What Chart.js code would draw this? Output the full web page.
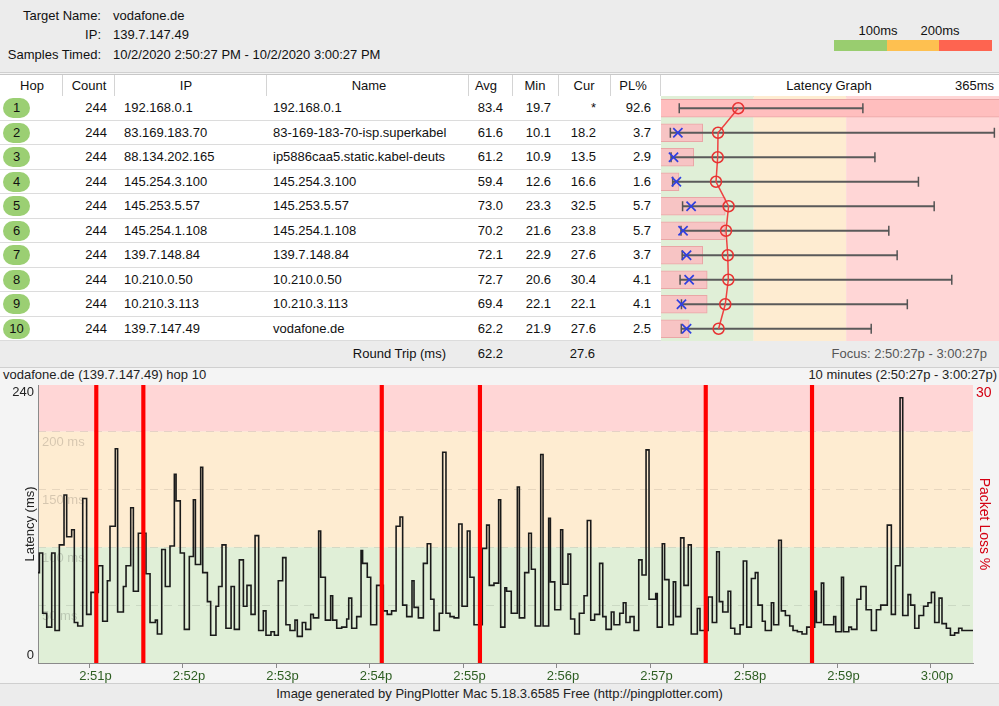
<!DOCTYPE html>
<html lang="en">
<head>
<meta charset="UTF-8">
<meta name="viewport" content="width=device-width, initial-scale=1.0">
<title>PingPlotter - vodafone.de</title>
<script src="https://cdn.jsdelivr.net/npm/chart.js"></script>
<style>
  body { margin:0; width:999px; height:706px; overflow:hidden; position:relative; background:#f4f4f4;
         font-family:"Liberation Sans", Arial, Helvetica, sans-serif; font-size:13px; color:#111; }
  .a { position:absolute; white-space:nowrap; line-height:16px; }
  .r { text-align:right; }
  .c { text-align:center; }
  #top { position:absolute; left:0; top:0; width:999px; height:72px; background:#ececec; border-bottom:1px solid #d0d0d0; }
  #thead { position:absolute; left:0; top:74px; width:999px; height:21px; background:#fff; border-top:1px solid #c8c8c8; border-bottom:1px solid #c8c8c8; }
  .sep { position:absolute; top:75px; width:1px; height:21px; background:#d4d4d4; }
  .row { position:absolute; left:0; width:661px; background:#fff; border-bottom:1px solid #dcdcdc; box-sizing:border-box; }
  .badge { position:absolute; left:3px; width:27px; height:20px; border-radius:10px; background:#9bcf73; text-align:center; line-height:20px; }
  #rt { position:absolute; left:0; top:341px; width:999px; height:26px; background:#ececec; border-bottom:1px solid #d0d0d0; }
  #foot { position:absolute; left:0; top:683px; width:999px; height:23px; background:#ececec; border-top:1px solid #cfcfcf; }
  canvas { position:absolute; }
</style>
</head>
<body>
<div id="top"></div>
<div class="a r" style="left:0;width:101px;top:8px">Target Name:</div>
<div class="a" style="left:113px;top:8px">vodafone.de</div>
<div class="a r" style="left:0;width:101px;top:27px">IP:</div>
<div class="a" style="left:113px;top:27px">139.7.147.49</div>
<div class="a r" style="left:0;width:101px;top:47px">Samples Timed:</div>
<div class="a" style="left:113px;top:47px">10/2/2020 2:50:27 PM - 10/2/2020 3:00:27 PM</div>
<div id="legend"></div>

<div id="thead"></div>
<div id="heads"></div>
<div id="rows"></div>
<canvas id="graph" width="338" height="245" style="left:661px;top:96px"></canvas>

<div id="rt"></div>
<div class="a r" style="left:246px;width:200px;top:346px">Round Trip (ms)</div>
<div class="a r" style="left:403px;width:100px;top:346px" id="rtAvg"></div>
<div class="a r" style="left:495px;width:100px;top:346px" id="rtCur"></div>
<div class="a r" style="left:687px;width:300px;top:346px;color:#555">Focus: 2:50:27p - 3:00:27p</div>

<div class="a" style="left:3px;top:367px;color:#222">vodafone.de (139.7.147.49) hop 10</div>
<div class="a r" style="left:597px;width:400px;top:367px;color:#222">10 minutes (2:50:27p - 3:00:27p)</div>

<canvas id="timeline" width="999" height="300" style="left:0;top:383px"></canvas>

<div id="foot"></div>
<div class="a c" style="left:0;width:999px;top:686px;color:#222">Image generated by PingPlotter Mac 5.18.3.6585 Free (http://pingplotter.com)</div>

<script>
    // hop table
    const hopNums  = [1, 2, 3, 4, 5, 6, 7, 8, 9, 10];
    const hopCount = [244, 244, 244, 244, 244, 244, 244, 244, 244, 244];
    const hopIp    = ['192.168.0.1', '83.169.183.70', '88.134.202.165', '145.254.3.100', '145.253.5.57',
                      '145.254.1.108', '139.7.148.84', '10.210.0.50', '10.210.3.113', '139.7.147.49'];
    const hopName  = ['192.168.0.1', '83-169-183-70-isp.superkabel', 'ip5886caa5.static.kabel-deuts', '145.254.3.100', '145.253.5.57',
                      '145.254.1.108', '139.7.148.84', '10.210.0.50', '10.210.3.113', 'vodafone.de'];
    const hopAvg   = [83.4, 61.6, 61.2, 59.4, 73.0, 70.2, 72.1, 72.7, 69.4, 62.2];
    const hopMin   = [19.7, 10.1, 10.9, 12.6, 23.3, 21.6, 22.9, 20.6, 22.1, 21.9];
    const hopCur   = [null, 18.2, 13.5, 16.6, 32.5, 23.8, 27.6, 30.4, 22.1, 27.6];
    const hopPL    = [92.6, 3.7, 2.9, 1.6, 5.7, 5.7, 3.7, 4.1, 4.1, 2.5];
    const hopMax   = [218, 360, 231, 278, 295, 246, 255, 314, 266, 227];
    const graphMaxMs = 365;
    const bandLimits = [100, 200];

    // hop 10 timeline (seconds after 2:50:27p, latency ms)
    const sampleSec = [0, 0.9, 3.0, 5.6, 8.8, 10.9, 13.7, 16.7, 18.4, 21.6, 23.3, 25.5, 28.7, 31.2, 34.0, 38.7, 41.5, 44.5, 46.2, 49.6,
        51.1, 54.8, 56.5, 59.5, 61.2, 64.4, 69.3, 71.9, 75.3, 76.6, 79.4, 81.7, 84.7, 87.5, 88.6, 91.3, 93.9, 97.1, 99.7, 101.0,
        104.4, 105.7, 108.7, 110.8, 114.2, 115.9, 118.1, 120.6, 123.9, 126.0, 129.2, 131.8, 134.1, 136.7, 139.3, 141.6, 144.6, 146.3, 149.5, 151.7,
        154.2, 157.0, 159.1, 161.7, 164.9, 166.4, 169.6, 171.8, 175.0, 176.7, 180.1, 181.4, 184.4, 187.8, 189.1, 191.7, 194.9, 198.1, 199.4, 201.3,
        204.5, 207.3, 208.3, 211.3, 213.5, 217.3, 221.6, 224.1, 226.9, 229.8, 232.3, 234.0, 236.6, 240.0, 241.3, 244.1, 247.3, 249.8, 252.0, 254.1,
        257.5, 259.7, 261.8, 264.4, 267.0, 270.0, 272.1, 275.5, 277.2, 279.8, 285.1, 287.9, 289.6, 292.6, 295.6, 296.9, 299.6, 300.7, 303.7, 307.6,
        308.9, 312.3, 314.9, 316.6, 319.1, 322.6, 324.1, 327.7, 328.8, 331.6, 335.4, 336.7, 340.1, 341.8, 344.4, 347.4, 350.4, 352.5, 354.7, 357.2,
        360.4, 362.4, 364.5, 367.9, 369.6, 373.3, 375.6, 377.3, 379.9, 382.5, 385.5, 387.6, 390.2, 392.1, 396.4, 397.4, 400.6, 402.1, 404.9, 407.7,
        409.2, 412.4, 414.5, 417.3, 419.2, 423.1, 424.8, 430.0, 432.7, 435.5, 437.2, 439.4, 442.8, 444.5, 447.1, 450.5, 452.6, 454.8, 457.8, 460.3,
        462.0, 464.8, 466.7, 470.6, 472.1, 475.3, 477.0, 479.6, 482.4, 484.5, 487.3, 490.3, 493.3, 498.4, 499.5, 502.7, 504.2, 510.6, 511.9, 515.6,
        516.9, 520.3, 522.0, 525.5, 528.0, 531.4, 534.8, 538.0, 540.8, 545.0, 547.6, 550.2, 553.2, 554.9, 558.3, 560.0, 562.6, 565.3, 568.3, 571.1,
        573.3, 575.4, 578.2, 580.1, 582.9, 585.5, 588.2, 590.8, 592.9, 600];
    const latencyMs = [78, 95, 43, 31, 95, 28, 102, 145, 109, 115, 35, 32, 142, 42, 61, 84, 36, 71, 118, 185,
        44, 66, 84, 134, 62, 112, 77, 35, 37, 25, 98, 66, 101, 163, 140, 95, 29, 92, 141, 85,
        169, 78, 53, 24, 49, 66, 102, 30, 66, 29, 89, 49, 67, 42, 110, 28, 45, 24, 27, 24,
        71, 91, 33, 28, 37, 23, 35, 29, 42, 39, 114, 74, 37, 58, 37, 30, 31, 38, 56, 30,
        40, 97, 86, 74, 33, 67, 45, 42, 45, 118, 126, 50, 40, 71, 48, 39, 86, 103, 55, 28,
        43, 182, 43, 40, 39, 120, 49, 114, 74, 33, 99, 119, 67, 69, 141, 31, 65, 62, 43, 152,
        39, 78, 112, 81, 32, 180, 32, 125, 70, 46, 115, 68, 94, 38, 25, 43, 58, 123, 37, 42,
        86, 40, 29, 44, 33, 43, 52, 35, 40, 28, 89, 76, 184, 55, 60, 31, 103, 72, 33, 70,
        40, 108, 67, 102, 25, 47, 28, 57, 35, 96, 53, 44, 62, 30, 25, 33, 88, 31, 73, 78,
        50, 36, 28, 52, 33, 106, 45, 41, 32, 28, 27, 25, 31, 62, 35, 69, 33, 40, 27, 74,
        27, 31, 29, 55, 66, 46, 28, 46, 50, 119, 42, 84, 229, 41, 59, 50, 30, 41, 49, 52,
        61, 35, 56, 34, 30, 24, 26, 30, 28, 28];
    const lossSec = [37.4, 67.6, 220.6, 283.6, 428.5, 496.7];
    const lossPct = [100, 100, 100, 100, 100, 100];
    const tickSec = [33, 93, 153, 213, 273, 333, 393, 453, 513, 573];
    const tickLabels = ['2:51p', '2:52p', '2:53p', '2:54p', '2:55p', '2:56p', '2:57p', '2:58p', '2:59p', '3:00p'];

    const GREEN = '#e0efd7', ORANGE = '#feecd1', RED = '#ffd6d6';
    const ROW_H = 24.5;

    function put(parent, text, css) {
        const d = document.createElement('div');
        d.className = 'a';
        d.textContent = text;
        Object.assign(d.style, css);
        parent.appendChild(d);
        return d;
    }

    // threshold legend
    const legend = document.getElementById('legend');
    put(legend, bandLimits[0] + 'ms', {left: '848px', width: '60px', top: '23px', textAlign: 'center'});
    put(legend, bandLimits[1] + 'ms', {left: '910px', width: '60px', top: '23px', textAlign: 'center'});
    [['834px', '#99cd6f'], ['887px', '#fec050'], ['939px', '#fe6450']].forEach(([l, c]) => {
        put(legend, '', {left: l, width: '53px', height: '11px', top: '40px', background: c});
    });

    // header row
    const heads = document.getElementById('heads');
    [['Hop', 32], ['Count', 89], ['IP', 186], ['Name', 369], ['Avg', 486], ['Min', 535], ['Cur', 584], ['PL%', 633], ['Latency Graph', 829]]
        .forEach(([t, cx]) => put(heads, t, {left: (cx - 60) + 'px', width: '120px', top: '78px', textAlign: 'center'}));
    put(heads, graphMaxMs + 'ms', {left: '894px', width: '100px', top: '78px', textAlign: 'right'});
    [62, 114, 266, 468, 512, 558, 610, 660].forEach(x => {
        const s = document.createElement('div');
        s.className = 'sep';
        s.style.left = x + 'px';
        heads.appendChild(s);
    });

    // body rows
    const rows = document.getElementById('rows');
    const right = (r) => ({left: (r - 100) + 'px', width: '100px', textAlign: 'right'});
    hopNums.forEach((h, i) => {
        const top = 96 + i * ROW_H;
        const row = document.createElement('div');
        row.className = 'row';
        row.style.top = top + 'px';
        row.style.height = ROW_H + 'px';
        rows.appendChild(row);
        const ty = (top + ROW_H / 2 - 8) + 'px';
        const b = document.createElement('div');
        b.className = 'badge';
        b.textContent = h;
        b.style.top = (top + ROW_H / 2 - 10) + 'px';
        rows.appendChild(b);
        put(rows, hopCount[i], {...right(107), top: ty});
        put(rows, hopIp[i], {left: '124px', top: ty});
        put(rows, hopName[i], {left: '273px', top: ty});
        put(rows, hopAvg[i].toFixed(1), {...right(503), top: ty});
        put(rows, hopMin[i].toFixed(1), {...right(551), top: ty});
        put(rows, hopCur[i] === null ? '*' : hopCur[i].toFixed(1), {...right(596), top: ty});
        put(rows, hopPL[i].toFixed(1), {...right(651), top: ty});
    });
    document.getElementById('rtAvg').textContent = hopAvg[hopAvg.length - 1].toFixed(1);
    document.getElementById('rtCur').textContent = hopCur[hopCur.length - 1].toFixed(1);

    Chart.defaults.font.family = '"Liberation Sans", Arial, Helvetica, sans-serif';
    Chart.defaults.font.size = 13;

    // latency graph column
    const graphBands = {
        id: 'graphBands',
        beforeDraw(chart) {
            const {ctx, chartArea: a, scales: {x}} = chart;
            const edges = [0, bandLimits[0], bandLimits[1], graphMaxMs];
            [GREEN, ORANGE, RED].forEach((c, k) => {
                const x0 = x.getPixelForValue(edges[k]), x1 = x.getPixelForValue(edges[k + 1]);
                ctx.fillStyle = c;
                ctx.fillRect(x0, a.top, x1 - x0, a.bottom - a.top);
            });
        }
    };

    new Chart(document.getElementById('graph'), {
        data: {
            labels: hopNums.map(String),
            datasets: [
                {
                    type: 'line', data: hopAvg, borderColor: '#ee4242', borderWidth: 1.5,
                    pointRadius: 5.5, pointBorderColor: '#e83232', pointBorderWidth: 1.5,
                    pointBackgroundColor: 'rgba(0,0,0,0)', order: 0
                },
                {
                    type: 'line', data: hopCur, showLine: false, pointStyle: 'crossRot',
                    pointRadius: 6.5, pointBorderColor: '#2f3fe0', pointBorderWidth: 1.7, order: 1
                },
                {
                    type: 'line', data: hopMin, showLine: false, pointStyle: 'line', pointRotation: 90,
                    pointRadius: 5, pointBorderColor: '#555', pointBorderWidth: 1.5, order: 2
                },
                {
                    type: 'line', data: hopMax, showLine: false, pointStyle: 'line', pointRotation: 90,
                    pointRadius: 5, pointBorderColor: '#555', pointBorderWidth: 1.5, order: 2
                },
                {
                    type: 'bar', data: hopMin.map((m, i) => [m, hopMax[i]]), xAxisID: 'x',
                    backgroundColor: '#5a5a5a', barThickness: 1.5, grouped: false, order: 3
                },
                {
                    type: 'bar', data: hopPL, xAxisID: 'xpl',
                    backgroundColor: hopPL.map(p => p >= 30 ? '#ffbebe' : '#f7c4c4'),
                    borderColor: '#e9a6a6', borderWidth: 1, barThickness: 18, grouped: false, order: 4
                }
            ]
        },
        options: {
            indexAxis: 'y',
            responsive: false,
            animation: false,
            layout: {padding: 0, autoPadding: false},
            plugins: {legend: {display: false}, tooltip: {enabled: false}},
            scales: {
                y: {type: 'category', offset: true, display: false},
                x: {type: 'linear', min: 0, max: graphMaxMs, display: false},
                xpl: {type: 'linear', min: 0, max: 30, display: false}
            }
        },
        plugins: [graphBands]
    });

    // timeline chart
    const timelineBands = {
        id: 'timelineBands',
        beforeDraw(chart) {
            const {ctx, chartArea: a, scales: {y}} = chart;
            const edges = [0, bandLimits[0], bandLimits[1], y.max];
            [GREEN, ORANGE, RED].forEach((c, k) => {
                const y0 = y.getPixelForValue(edges[k]), y1 = y.getPixelForValue(edges[k + 1]);
                ctx.fillStyle = c;
                ctx.fillRect(a.left, y1, a.right - a.left, y0 - y1);
            });
        }
    };
    const noPad = s => { s.paddingTop = 0; s.paddingBottom = 0; s.paddingLeft = 0; s.paddingRight = 0; };

    new Chart(document.getElementById('timeline'), {
        type: 'line',
        data: {
            datasets: [
                {
                    type: 'bar', data: lossSec.map((t, i) => ({x: t, y: lossPct[i]})), yAxisID: 'y2',
                    backgroundColor: '#ff0000', barThickness: 3.5, order: 0
                },
                {
                    type: 'line', data: sampleSec.map((t, i) => ({x: t, y: latencyMs[i]})), yAxisID: 'y',
                    borderColor: '#1a1a1a', borderWidth: 1.6, stepped: 'before', pointRadius: 0, fill: false, order: 1
                }
            ]
        },
        options: {
            responsive: false,
            animation: false,
            layout: {padding: {top: 2, left: 0, right: 0, bottom: 0}, autoPadding: false},
            plugins: {legend: {display: false}, tooltip: {enabled: false}},
            scales: {
                x: {
                    type: 'linear', min: 0, max: 600, offset: false,
                    afterBuildTicks: s => { s.ticks = tickSec.map(v => ({value: v})); },
                    afterFit: s => { s.height = 20; noPad(s); },
                    ticks: {
                        callback: (v, i) => tickLabels[i], color: '#2d5e22', padding: 1,
                        maxRotation: 0, autoSkip: false, labelOffset: 6
                    },
                    grid: {drawOnChartArea: false, drawTicks: true, tickLength: 5, color: '#8a8a8a', offset: false},
                    border: {color: '#8a8a8a'}
                },
                y: {
                    min: 0, max: 240, position: 'left', weight: 1,
                    afterBuildTicks: s => { s.ticks = [{value: 0}, {value: 240}]; },
                    afterFit: s => { s.width = 38; noPad(s); },
                    ticks: {callback: v => v === 240 ? ['', '240'] : ['0', ''], color: '#222', padding: 4},
                    grid: {drawOnChartArea: false, drawTicks: false},
                    border: {color: '#8a8a8a'},
                    title: {display: true, text: 'Latency (ms)', color: '#222', padding: {top: 23, bottom: 0}}
                },
                yIn: {
                    min: 0, max: 240, position: 'left', weight: 0,
                    afterFit: s => { s.width = 0; noPad(s); },
                    ticks: {
                        stepSize: 50, mirror: true, padding: 4, labelOffset: 11,
                        color: 'rgba(0,0,0,0.16)',
                        callback: v => (v > 0 && v < 240) ? v + ' ms' : ''
                    },
                    grid: {
                        drawTicks: false,
                        color: c => (c.tick && c.tick.value > 0 && c.tick.value < 240) ? 'rgba(0,0,0,0.09)' : 'rgba(0,0,0,0)'
                    },
                    border: {display: false, dash: [8, 6]}
                },
                y2: {
                    min: 0, max: 30, position: 'right',
                    afterBuildTicks: s => { s.ticks = [{value: 30}]; },
                    afterFit: s => { s.width = 26; noPad(s); },
                    ticks: {callback: v => ['', String(v)], color: '#d40012', padding: 3, font: {size: 14}},
                    grid: {drawOnChartArea: false, drawTicks: false},
                    border: {display: false},
                    title: {display: true, text: 'Packet Loss %', color: '#d40012', font: {size: 14}, padding: {top: 7, bottom: 0}}
                }
            }
        },
        plugins: [timelineBands]
    });
</script>
</body>
</html>
